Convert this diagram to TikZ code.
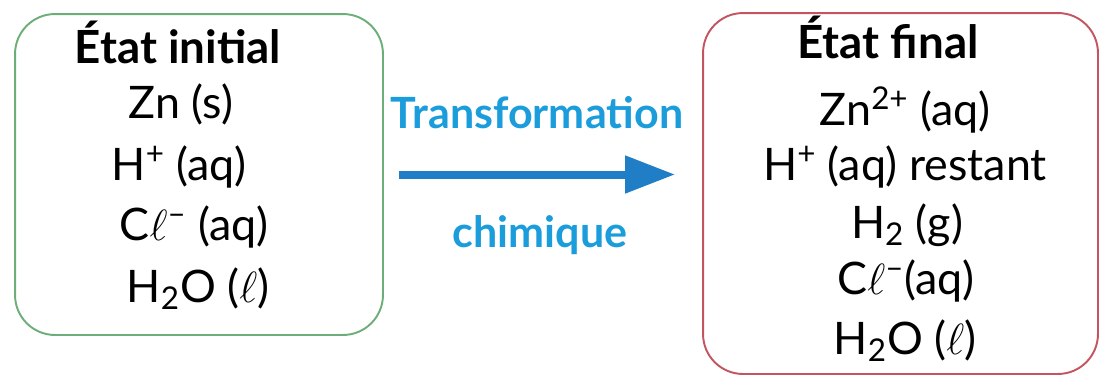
\documentclass[tikz,border=0pt]{standalone}
\usepackage{fontspec}
\setmainfont{Lato}
\usetikzlibrary{arrows.meta}
\definecolor{boxgreen}{HTML}{6DAE78}
\definecolor{boxred}{HTML}{C25560}
\definecolor{arrowblue}{HTML}{1F7EC6}
\definecolor{labelblue}{HTML}{1B9DDB}
\begin{document}
\begin{tikzpicture}[x=0.02cm, y=-0.02cm,
  etat/.style={draw, line width=1.1pt, rounded corners=0.8cm},
  espece/.style={anchor=base, font=\fontsize{25.5}{30}\selectfont},
  titre/.style={anchor=base, font=\fontsize{26}{30}\selectfont\bfseries},
  legende/.style={anchor=base, text=labelblue, font=\fontsize{24.5}{28}\selectfont\bfseries}]
\useasboundingbox (0,0) rectangle (1102,376);
% boites
\node[etat, boxgreen, minimum width=7.36cm, minimum height=6.42cm] (initial) at (199,174.5){};
\node[etat, boxred, minimum width=7.9cm, minimum height=7.22cm] (final) at (900.5,193.5){};
% etat initial
\node[titre] (ti) at (178,63){État initial};
\node[espece] (i1) at (181,118){Zn (s)};
\node[espece] (i2) at (179,180){H\textsuperscript{+} (aq)};
\node[espece] (i3) at (194,240){C$\ell$\textsuperscript{--} (aq)};
\node[espece] (i4) at (198,302){H\textsubscript{2}O ($\ell$)};
% etat final
\node[titre] (tf) at (888,58){État final};
\node[espece] (f1) at (905,125){Zn\textsuperscript{2+} (aq)};
\node[espece] (f2) at (905,180){H\textsuperscript{+} (aq) restant};
\node[espece] (f3) at (907,238){H\textsubscript{2} (g)};
\node[espece] (f4) at (906,294){C$\ell$\textsuperscript{--}(aq)};
\node[espece] (f5) at (905,354){H\textsubscript{2}O ($\ell$)};
% transformation
\node[legende] (l1) at (537,128){Transformation};
\node[legende] (l2) at (540,247){chimique};
\draw[arrowblue, line width=0.16cm, -{Triangle[length=1cm, width=0.72cm]},
  shorten <=15*0.02cm, shorten >=27*0.02cm]
  (initial.east) -- (initial.east -| final.west);
\end{tikzpicture}
\end{document}
